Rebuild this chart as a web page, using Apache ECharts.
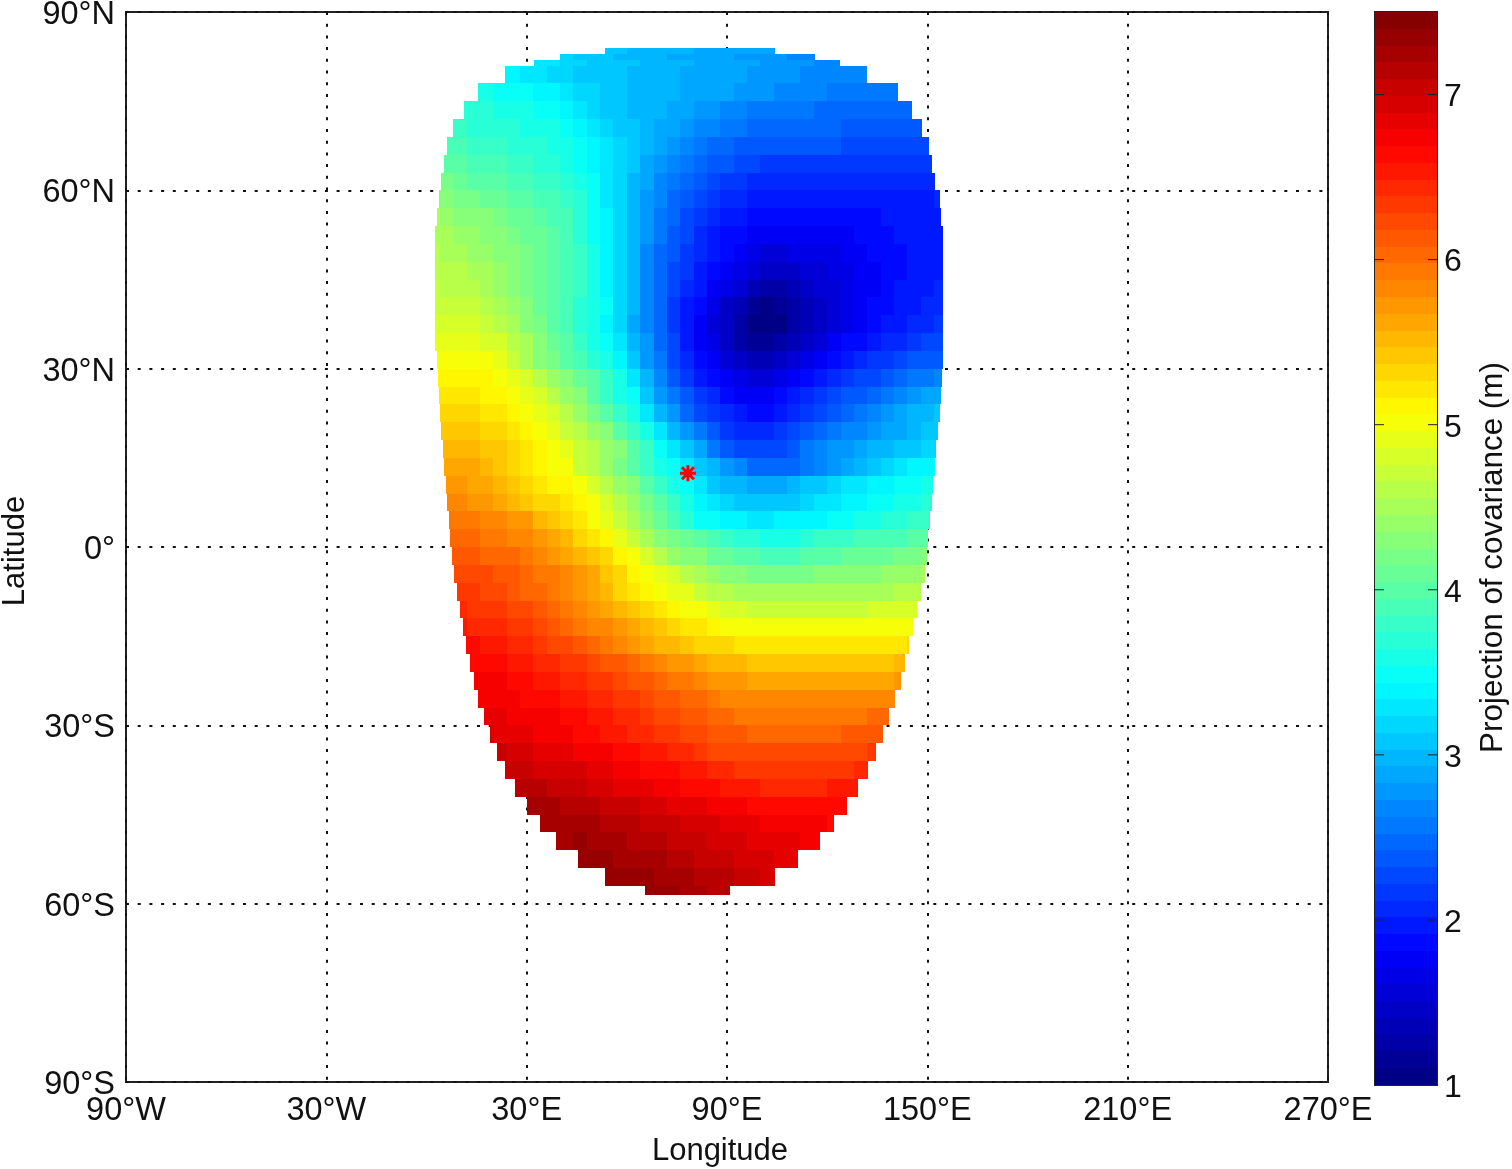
<!DOCTYPE html>
<html>
<head>
<meta charset="utf-8">
<style>
  html, body { margin: 0; background: #fff; }
  #chart { width: 1512px; height: 1169px; }
</style>
<script src="https://cdn.jsdelivr.net/npm/echarts@6/dist/echarts.min.js"></script>
</head>
<body>
<div id="chart"></div>
<script>
// tick labels
const lonTicks = ['90°W', '30°W', '30°E', '90°E', '150°E', '210°E', '270°E'];
const latTicks = ['90°S', '60°S', '30°S', '0°', '30°N', '60°N', '90°N'];
const barTicks = [1, 2, 3, 4, 5, 6, 7];
const star = [78.3, 12.4];

// row edges (lat), and the west / east edge of the coloured patch on each row
const rowEdges = [84,83,82,81,78,75,72,69,66,63,60,57,54,51,48,45,42,39,36,33,30,27,24,21,18,15,12,9,6,3,0,-3,-6,-9,-12,-15,-18,-21,-24,-27,-30,-33,-36,-39,-42,-45,-48,-51,-54,-57,-58.6];
const rowWest = [53.5,40,32.2,23.5,15.4,11.2,7.9,6.1,5.2,4.3,3.7,3.1,2.5,2.5,2.5,2.5,2.5,2.5,2.5,3,3.4,3.7,4,4.3,4.9,5.2,5.8,6.1,6.7,7,7.6,8.2,9.1,10,10.9,11.8,13,14.2,15.4,17.2,19,21.1,23.5,26.5,30.1,34,38.8,45.4,53.5,65.4];
const rowEast = [104.4,116.3,123.8,131.9,141.2,145.4,148.4,150.5,151.4,152.3,153.8,154.1,154.7,154.7,154.7,154.7,154.7,154.7,154.7,154.7,154.4,154,153.8,153.2,152.6,152.3,151.7,151.4,150.8,150.2,149.9,149.3,148.1,146.9,145.7,144.5,143.3,142.1,140.3,138.5,136.7,134.6,132.2,129.2,125.9,122,117.8,111.3,104.4,90.9];

// values per row, one per 4 degree column
const t00 = [3.05,3.05,3.0,3.0,3.0,2.95,2.95,2.9,2.9,2.9,2.85,2.85,2.85,2.8];
const t01 = [3.2,3.1,3.1,3.1,3.0,3.0,3.0,3.0,2.9,2.9,2.9,2.9,2.9,2.8,2.8,2.8,2.8,2.7,2.7,2.7];
const t02 = [3.3,3.25,3.2,3.15,3.1,3.1,3.05,3.05,3.0,3.0,2.95,2.95,2.9,2.9,2.9,2.85,2.85,2.8,2.8,2.75,2.75,2.7,2.7];
const r01 = [3.4,3.4,3.3,3.3,3.2,3.2,3.1,3.1,3.05,3.05,3.0,3.0,2.95,2.95,2.9,2.9,2.9,2.85,2.85,2.8,2.8,2.75,2.75,2.7,2.7,2.7,2.65,2.65,2.6];
const r02 = [3.6,3.6,3.5,3.5,3.5,3.4,3.4,3.3,3.2,3.15,3.05,3.05,3.0,3.0,2.95,2.95,2.9,2.9,2.85,2.85,2.8,2.75,2.75,2.7,2.7,2.65,2.65,2.6,2.6,2.6,2.55,2.55,2.55];
const r03 = [3.7,3.7,3.7,3.6,3.6,3.6,3.5,3.5,3.4,3.3,3.2,3.1,3.05,3.0,3.0,2.95,2.9,2.85,2.8,2.75,2.7,2.65,2.6,2.6,2.55,2.55,2.55,2.5,2.5,2.5,2.5,2.5,2.5,2.5,2.5];
const r04 = [3.8,3.8,3.7,3.7,3.7,3.7,3.6,3.6,3.55,3.5,3.4,3.3,3.2,3.1,3.05,3.0,2.9,2.85,2.8,2.7,2.65,2.6,2.55,2.5,2.5,2.5,2.5,2.45,2.45,2.45,2.4,2.4,2.4,2.4,2.4,2.4,2.4];
const r05 = [3.9,3.85,3.8,3.8,3.75,3.7,3.7,3.65,3.6,3.55,3.45,3.35,3.25,3.15,3.1,3.0,2.9,2.8,2.7,2.6,2.5,2.5,2.4,2.4,2.4,2.4,2.4,2.35,2.35,2.35,2.3,2.3,2.3,2.3,2.3,2.3,2.3];
const r06 = [4.0,3.95,3.9,3.9,3.85,3.8,3.8,3.7,3.7,3.6,3.5,3.4,3.3,3.2,3.05,2.9,2.8,2.7,2.6,2.5,2.4,2.4,2.3,2.3,2.2,2.2,2.2,2.2,2.2,2.2,2.2,2.2,2.2,2.2,2.2,2.2,2.2];
const r07 = [4.15,4.05,4.0,4.0,3.95,3.9,3.85,3.8,3.75,3.7,3.6,3.45,3.3,3.15,3.0,2.9,2.7,2.6,2.5,2.4,2.3,2.2,2.2,2.1,2.1,2.1,2.1,2.1,2.1,2.1,2.1,2.1,2.1,2.1,2.1,2.1,2.1,2.1];
const r08 = [4.3,4.25,4.2,4.15,4.1,4.05,4.0,3.95,3.9,3.85,3.75,3.65,3.5,3.3,3.15,3.0,2.8,2.7,2.5,2.4,2.3,2.2,2.1,2.1,2.0,2.0,2.0,2.0,2.0,2.0,2.0,2.0,2.0,2.0,2.0,2.0,2.0,2.0,2.1];
const r09 = [4.5,4.4,4.35,4.3,4.25,4.15,4.1,4.05,4.0,3.9,3.85,3.7,3.5,3.35,3.2,3.0,2.8,2.6,2.5,2.3,2.2,2.1,2.0,2.0,1.9,1.9,1.9,1.9,1.9,1.9,1.9,1.9,1.9,1.9,2.0,2.0,2.0,2.0,2.0];
const r10 = [4.55,4.5,4.45,4.4,4.35,4.25,4.2,4.1,4.05,3.95,3.85,3.7,3.5,3.35,3.15,3.0,2.8,2.6,2.4,2.3,2.1,2.0,1.9,1.9,1.8,1.8,1.8,1.8,1.8,1.8,1.8,1.8,1.9,1.9,1.9,2.0,2.0,2.0,2.0];
const r11 = [4.6,4.55,4.5,4.45,4.4,4.3,4.25,4.2,4.1,4.0,3.9,3.75,3.55,3.35,3.15,2.95,2.7,2.5,2.4,2.2,2.1,2.0,1.9,1.8,1.7,1.6,1.6,1.7,1.7,1.7,1.7,1.8,1.8,1.9,1.9,1.9,2.0,2.0,2.0];
const r12 = [4.65,4.6,4.6,4.55,4.5,4.4,4.3,4.2,4.1,4.0,3.9,3.75,3.55,3.4,3.2,2.95,2.7,2.5,2.3,2.2,2.0,1.9,1.8,1.7,1.6,1.5,1.5,1.5,1.6,1.6,1.7,1.7,1.8,1.8,1.9,1.9,2.0,2.0,2.0];
const r13 = [4.7,4.65,4.65,4.6,4.55,4.45,4.35,4.2,4.1,4.0,3.9,3.75,3.6,3.4,3.2,2.95,2.7,2.5,2.3,2.1,2.0,1.8,1.7,1.6,1.4,1.3,1.3,1.4,1.5,1.6,1.6,1.7,1.8,1.8,1.9,2.0,2.0,2.0,2.1];
const r14 = [4.75,4.75,4.7,4.7,4.65,4.5,4.4,4.25,4.1,3.95,3.85,3.7,3.6,3.45,3.2,3.0,2.7,2.5,2.2,2.0,1.9,1.7,1.5,1.4,1.2,1.1,1.2,1.3,1.4,1.5,1.6,1.7,1.8,1.9,1.9,2.0,2.0,2.1,2.1];
const r15 = [4.85,4.85,4.8,4.8,4.75,4.65,4.5,4.35,4.15,4.0,3.9,3.7,3.55,3.4,3.15,2.9,2.7,2.5,2.2,2.0,1.8,1.6,1.5,1.3,1.1,1.0,1.1,1.3,1.4,1.5,1.6,1.7,1.8,1.9,2.0,2.0,2.1,2.1,2.2];
const r16 = [4.95,4.95,4.9,4.9,4.85,4.8,4.65,4.5,4.3,4.1,3.95,3.8,3.6,3.45,3.25,3.0,2.8,2.5,2.3,2.0,1.8,1.7,1.5,1.3,1.2,1.2,1.3,1.4,1.5,1.6,1.8,1.9,1.9,2.0,2.1,2.1,2.2,2.3,2.3];
const r17 = [5.05,5.05,5.0,5.0,5.0,4.9,4.75,4.55,4.35,4.15,4.0,3.85,3.7,3.55,3.4,3.1,2.8,2.6,2.3,2.1,1.9,1.8,1.6,1.5,1.4,1.4,1.5,1.6,1.7,1.8,1.9,2.0,2.1,2.2,2.2,2.3,2.4,2.4,2.4];
const r18 = [5.15,5.15,5.1,5.1,5.1,5.05,4.95,4.8,4.6,4.45,4.3,4.1,3.95,3.75,3.55,3.25,3.0,2.7,2.4,2.2,2.0,1.9,1.8,1.7,1.6,1.6,1.7,1.8,1.9,2.0,2.1,2.2,2.3,2.3,2.4,2.5,2.6,2.6,2.7];
const r19 = [5.25,5.25,5.2,5.2,5.15,5.1,5.05,4.9,4.8,4.6,4.45,4.25,4.0,3.8,3.6,3.45,3.1,2.8,2.6,2.4,2.2,2.1,1.9,1.8,1.8,1.8,1.9,2.0,2.1,2.2,2.3,2.4,2.4,2.5,2.6,2.7,2.8,2.9,2.9];
const r20 = [5.3,5.3,5.3,5.2,5.2,5.15,5.05,4.9,4.8,4.6,4.4,4.2,4.0,3.8,3.55,3.3,3.0,2.8,2.5,2.3,2.2,2.1,2.0,1.9,1.9,2.0,2.1,2.2,2.3,2.4,2.5,2.6,2.7,2.8,2.9,3.0,3.0,3.1];
const r21 = [5.4,5.4,5.4,5.3,5.3,5.2,5.1,5.0,4.9,4.75,4.6,4.4,4.25,4.0,3.8,3.55,3.25,3.0,2.75,2.55,2.4,2.15,2.05,2.05,2.05,2.15,2.25,2.35,2.45,2.55,2.65,2.7,2.75,2.85,2.9,3.0,3.05,3.1];
const r22 = [5.5,5.5,5.5,5.45,5.4,5.3,5.2,5.15,5.05,4.9,4.75,4.6,4.4,4.25,4.0,3.75,3.5,3.3,3.05,2.85,2.6,2.4,2.3,2.25,2.25,2.3,2.4,2.55,2.65,2.75,2.8,2.85,2.95,3.0,3.05,3.1,3.15,3.2];
const r23 = [5.65,5.6,5.6,5.5,5.45,5.35,5.25,5.15,5.05,5.0,4.75,4.6,4.4,4.2,4.0,3.8,3.6,3.45,3.3,3.1,2.95,2.8,2.65,2.5,2.45,2.45,2.5,2.6,2.7,2.8,2.85,2.95,3.05,3.15,3.25,3.35,3.4,3.45];
const r24 = [5.7,5.7,5.65,5.6,5.55,5.45,5.35,5.25,5.15,5.1,5.0,4.8,4.65,4.45,4.25,4.0,3.8,3.6,3.45,3.3,3.1,3.0,3.0,2.9,2.85,2.9,2.95,3.05,3.1,3.2,3.25,3.3,3.35,3.4,3.45,3.5,3.55];
const r25 = [5.8,5.8,5.75,5.7,5.65,5.55,5.45,5.35,5.3,5.2,5.1,5.0,4.8,4.65,4.45,4.2,3.95,3.75,3.55,3.4,3.3,3.2,3.1,3.05,3.05,3.05,3.1,3.2,3.25,3.3,3.35,3.4,3.45,3.5,3.55,3.6,3.65];
const r26 = [5.95,5.95,5.9,5.85,5.8,5.75,5.7,5.55,5.45,5.3,5.2,5.05,4.9,4.7,4.5,4.3,4.05,3.85,3.65,3.5,3.45,3.4,3.35,3.3,3.3,3.35,3.35,3.4,3.4,3.45,3.5,3.55,3.6,3.65,3.7,3.75,3.8];
const r27 = [6.05,6.05,6.0,5.95,5.9,5.85,5.8,5.7,5.6,5.5,5.35,5.25,5.1,4.95,4.75,4.55,4.35,4.15,4.05,3.95,3.85,3.75,3.7,3.65,3.6,3.6,3.6,3.7,3.75,3.75,3.8,3.85,3.85,3.9,3.9,3.95,4.0];
const r28 = [6.15,6.15,6.1,6.05,6.05,6.0,5.95,5.85,5.75,5.65,5.55,5.45,5.3,5.15,5.0,4.8,4.6,4.45,4.35,4.25,4.1,4.05,4.0,3.95,3.9,3.9,3.9,3.95,4.0,4.0,4.05,4.05,4.1,4.1,4.15,4.2,4.25];
const r29 = [6.25,6.2,6.2,6.15,6.1,6.05,5.95,5.9,5.8,5.7,5.6,5.45,5.3,5.15,5.05,4.95,4.8,4.65,4.5,4.4,4.3,4.25,4.2,4.2,4.2,4.2,4.2,4.25,4.3,4.3,4.35,4.35,4.4,4.4,4.45,4.5];
const r30 = [6.3,6.3,6.25,6.2,6.15,6.05,6.0,5.95,5.85,5.7,5.6,5.5,5.35,5.2,5.1,5.05,4.95,4.9,4.75,4.65,4.6,4.55,4.55,4.5,4.5,4.5,4.5,4.5,4.5,4.5,4.55,4.55,4.55,4.6,4.6,4.65];
const r31 = [6.4,6.35,6.35,6.3,6.25,6.2,6.1,6.05,5.95,5.85,5.75,5.65,5.5,5.4,5.3,5.2,5.1,5.05,5.0,4.9,4.85,4.8,4.75,4.75,4.75,4.75,4.75,4.75,4.75,4.75,4.75,4.8,4.8,4.8,4.85];
const r32 = [6.5,6.45,6.45,6.4,6.35,6.3,6.2,6.15,6.05,5.95,5.85,5.8,5.7,5.6,5.5,5.4,5.35,5.25,5.2,5.1,5.05,5.05,5.05,5.05,5.0,5.0,5.0,5.0,5.0,5.0,5.0,5.0,5.0,5.05,5.05];
const r33 = [6.6,6.6,6.55,6.5,6.45,6.4,6.35,6.25,6.2,6.1,6.0,5.95,5.85,5.75,5.65,5.55,5.5,5.4,5.35,5.3,5.3,5.25,5.25,5.2,5.2,5.2,5.2,5.2,5.2,5.2,5.2,5.25,5.25,5.25,5.3];
const r34 = [6.65,6.65,6.6,6.55,6.5,6.45,6.4,6.35,6.3,6.2,6.15,6.1,6.0,5.95,5.85,5.75,5.7,5.6,5.55,5.5,5.5,5.45,5.45,5.45,5.45,5.45,5.45,5.45,5.45,5.45,5.45,5.45,5.5];
const r35 = [6.7,6.7,6.7,6.65,6.6,6.55,6.5,6.45,6.4,6.35,6.3,6.25,6.15,6.1,6.0,5.95,5.9,5.8,5.75,5.7,5.7,5.65,5.65,5.65,5.65,5.65,5.65,5.65,5.65,5.65,5.65,5.65,5.7];
const r36 = [6.75,6.75,6.75,6.7,6.65,6.65,6.6,6.55,6.5,6.45,6.4,6.35,6.3,6.25,6.15,6.1,6.05,6.0,5.9,5.85,5.85,5.85,5.8,5.8,5.8,5.8,5.8,5.8,5.8,5.8,5.85,5.85,5.85];
const r37 = [6.8,6.8,6.75,6.75,6.7,6.7,6.65,6.6,6.55,6.5,6.45,6.4,6.3,6.25,6.2,6.15,6.1,6.0,6.0,5.95,5.95,5.95,5.95,5.95,5.95,5.95,5.95,5.95,5.95,6.0,6.0];
const r38 = [6.9,6.85,6.85,6.8,6.75,6.75,6.7,6.65,6.6,6.55,6.5,6.45,6.4,6.35,6.3,6.25,6.2,6.15,6.1,6.1,6.05,6.05,6.05,6.05,6.05,6.05,6.05,6.1,6.1,6.1,6.15];
const r39 = [7.0,6.95,6.9,6.85,6.85,6.8,6.75,6.7,6.7,6.65,6.6,6.55,6.5,6.45,6.4,6.3,6.25,6.25,6.2,6.2,6.2,6.2,6.2,6.2,6.2,6.2,6.25,6.25,6.3];
const r40 = [7.05,7.05,7.0,6.95,6.95,6.9,6.9,6.85,6.8,6.75,6.7,6.65,6.65,6.6,6.55,6.5,6.45,6.4,6.35,6.35,6.35,6.3,6.3,6.3,6.3,6.35,6.35,6.4,6.4];
const r41 = [7.15,7.15,7.1,7.05,7.05,7.0,6.95,6.9,6.85,6.85,6.8,6.75,6.7,6.65,6.6,6.6,6.55,6.5,6.5,6.45,6.45,6.45,6.45,6.45,6.5,6.5,6.55];
const r42 = [7.2,7.2,7.2,7.15,7.1,7.1,7.05,7.0,7.0,6.95,6.9,6.85,6.85,6.8,6.75,6.75,6.7,6.65,6.65,6.6,6.6,6.6,6.6,6.6,6.65];
const r43 = [7.2,7.2,7.2,7.2,7.2,7.1,7.1,7.1,7.0,7.0,7.0,6.9,6.9,6.9,6.8,6.8,6.8,6.7,6.7,6.7,6.7,6.7,6.6];
const r44 = [7.2,7.2,7.3,7.2,7.2,7.2,7.1,7.1,7.1,7.0,7.0,7.0,6.9,6.9,6.9,6.8,6.8,6.8,6.8,6.7,6.7];
const r45 = [7.3,7.3,7.3,7.2,7.2,7.2,7.2,7.1,7.1,7.0,7.0,7.0,6.9,6.9,6.9,6.8,6.8];
const r46 = [7.3,7.3,7.3,7.3,7.2,7.2,7.2,7.1,7.1,7.1,7.0,7.0,6.9,6.9];
const r47 = [7.3,7.3,7.3,7.2,7.2,7.1,7.1];
const rowValues = [t00,t01,t02,r01,r02,r03,r04,r05,r06,r07,r08,r09,r10,r11,r12,r13,r14,r15,r16,r17,r18,r19,r20,r21,r22,r23,r24,r25,r26,r27,r28,r29,r30,r31,r32,r33,r34,r35,r36,r37,r38,r39,r40,r41,r42,r43,r44,r45,r46,r47];

const vMin = 1, vMax = 7.5, levels = 64;

// matlab jet, cut into 64 flat levels
function jet(t) {
  const c = x => Math.round(255 * Math.max(0, Math.min(1, x)));
  return 'rgb(' + c(1.5 - Math.abs(4 * t - 3)) + ',' + c(1.5 - Math.abs(4 * t - 2)) + ',' + c(1.5 - Math.abs(4 * t - 1)) + ')';
}
function levelColor(v) {
  const n = Math.min(levels - 1, Math.max(0, Math.floor((v - vMin) / (vMax - vMin) * levels)));
  return jet((n + 0.5) / levels);
}

const cells = [];
rowValues.forEach((vals, r) => {
  const k0 = Math.floor(rowWest[r] / 4);
  vals.forEach((v, i) => {
    const w = Math.max(rowWest[r], 4 * (k0 + i));
    const e = Math.min(rowEast[r], 4 * (k0 + i + 1));
    if (w < e) cells.push([w, e, rowEdges[r + 1], rowEdges[r], v]);
  });
});

const barCells = [];
for (let n = 0; n < levels; n++) {
  const lo = vMin + (vMax - vMin) * n / levels;
  barCells.push([0, 1, lo, lo + (vMax - vMin) / levels, lo + 0.001]);
}

function renderCell(params, api) {
  const p0 = api.coord([api.value(0), api.value(3)]);
  const p1 = api.coord([api.value(1), api.value(2)]);
  const x = Math.round(p0[0]), y = Math.round(p0[1]);
  return {
    type: 'rect',
    shape: { x: x, y: y, width: Math.round(p1[0]) - x, height: Math.round(p1[1]) - y },
    style: { fill: levelColor(api.value(4)) }
  };
}

// short ticks on both inner edges of the colour bar
function renderBarTick(params, api) {
  const p = api.coord([api.value(0), api.value(1)]);
  const dir = api.value(0) === 0 ? 1 : -1;
  return {
    type: 'line',
    shape: { x1: p[0], y1: p[1], x2: p[0] + dir * 9, y2: p[1] },
    style: { stroke: '#222', lineWidth: 1 }
  };
}

const font = 'Liberation Sans';
const ink = '#111';
const frame = '#222';
const dots = { color: '#111', width: 2, type: [3, 8.7] };

const chart = echarts.init(document.getElementById('chart'), null, { renderer: 'canvas' });
chart.setOption({
  animation: false,
  backgroundColor: '#fff',
  textStyle: { fontFamily: font },
  grid: [
    { left: 126, top: 12, width: 1202, height: 1070, outerBoundsMode: 'none', show: true, borderColor: frame, borderWidth: 2, backgroundColor: '#fff' },
    { left: 1375, top: 12, width: 62, height: 1073, outerBoundsMode: 'none', show: true, borderColor: frame, borderWidth: 2 }
  ],
  xAxis: [
    {
      gridIndex: 0, type: 'value', min: -90, max: 270, interval: 60,
      name: 'Longitude', nameLocation: 'middle', nameGap: 54,
      nameTextStyle: { fontFamily: font, fontSize: 31, color: ink, padding: [0, 14, 0, 0] },
      axisLine: { show: false },
      axisTick: { show: false },
      splitLine: { show: true, lineStyle: dots },
      axisLabel: {
        fontFamily: font, fontSize: 32.5, color: ink, margin: 13,
        formatter: v => lonTicks[(v + 90) / 60]
      }
    },
    { gridIndex: 1, type: 'value', min: 0, max: 1, show: false }
  ],
  yAxis: [
    {
      gridIndex: 0, type: 'value', min: -90, max: 90, interval: 30,
      name: 'Latitude', nameLocation: 'middle', nameGap: 95, nameRotate: 90,
      nameTextStyle: { fontFamily: font, fontSize: 31, color: ink, padding: [0, 8, 0, 0] },
      axisLine: { show: false },
      axisTick: { show: false },
      splitLine: { show: true, lineStyle: dots },
      axisLabel: {
        margin: 11,
        formatter: v => '{t|' + latTicks[(v + 90) / 30] + '}',
        rich: { t: { fontFamily: font, fontSize: 32.5, color: ink, padding: [6, 0, 0, 0] } }
      }
    },
    {
      gridIndex: 1, type: 'value', min: 1, max: 7.5, interval: 1, position: 'right',
      name: 'Projection of covariance (m)', nameLocation: 'middle', nameGap: 41, nameRotate: 90,
      nameTextStyle: { fontFamily: font, fontSize: 31.4, color: ink, padding: [0, 18, 0, 0] },
      axisLine: { show: false },
      axisTick: { show: false },
      splitLine: { show: false },
      axisLabel: {
        margin: 7, showMaxLabel: false,
        formatter: v => (barTicks.includes(v) ? '{t|' + v + '}' : ''),
        rich: { t: { fontFamily: font, fontSize: 32, color: ink, padding: [6, 0, 0, 0] } }
      }
    }
  ],
  series: [
    {
      type: 'custom', xAxisIndex: 0, yAxisIndex: 0, silent: true, z: 3,
      renderItem: renderCell, data: cells, clip: true,
      encode: { x: [0, 1], y: [2, 3] }
    },
    {
      type: 'scatter', xAxisIndex: 0, yAxisIndex: 0, silent: true, z: 5,
      symbol: 'path://M0,-8L0,8M-8,0L8,0M-6,-6L6,6M-6,6L6,-6',
      symbolSize: 16,
      itemStyle: { color: 'none', borderColor: '#ff0000', borderWidth: 3, opacity: 1 },
      data: [star]
    },
    {
      type: 'custom', xAxisIndex: 1, yAxisIndex: 1, silent: true, z: 1,
      renderItem: renderCell, data: barCells,
      encode: { x: [0, 1], y: [2, 3] }
    },
    {
      type: 'custom', xAxisIndex: 1, yAxisIndex: 1, silent: true, z: 2,
      renderItem: renderBarTick,
      data: barTicks.slice(1).flatMap(t => [[0, t], [1, t]]),
      encode: { x: 0, y: 1 }
    }
  ]
});
</script>
</body>
</html>
